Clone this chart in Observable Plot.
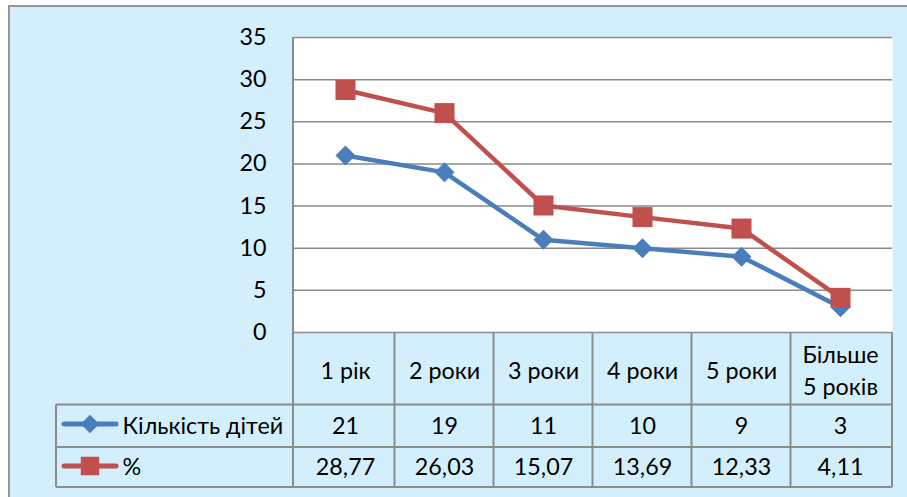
<!DOCTYPE html>
<html><head><meta charset="utf-8">
<script src="https://cdn.jsdelivr.net/npm/d3@7"></script>
<script src="https://cdn.jsdelivr.net/npm/@observablehq/plot@0.6"></script>
<style>html,body{margin:0;padding:0;background:#fff;} #chart svg{display:block}</style>
</head><body><div id="chart"></div>
<script>
// ---- data ----
const categories = ["1 рік", "2 роки", "3 роки", "4 роки", "5 роки", "Більше\n5 років"];
const countValues = [21, 19, 11, 10, 9, 3];
const pctValues = [28.77, 26.03, 15.07, 13.69, 12.33, 4.11];
const seriesNames = ["Кількість дітей", "%"];
const yTicks = [0, 5, 10, 15, 20, 25, 30, 35];

const countData = categories.map((c, i) => ({cat: c, value: countValues[i]}));
const pctData = categories.map((c, i) => ({cat: c, value: pctValues[i]}));

// ---- style ----
const BLUE = "#4a7ebb", RED = "#c0504d", BG = "#d4effc", GRID = "#8a8a8a", TABLE = "#8c8c8c";
const FS = 23.3;
const ROW1 = 72.5, ROW2 = 115, ROW3 = 155;   // table row bottoms below the frame
const DIAMOND_R = 9, SQUARE_R = 11.3;

function background(index, scales, values, dims) {
  const {width, height} = dims;
  const g = d3.create("svg:g");
  g.append("rect").attr("x", 9).attr("y", 6).attr("width", width - 9).attr("height", height - 6).attr("fill", BG);
  g.append("path").attr("d", `M9,${height}V6H${width}`).attr("fill", "none")
    .attr("stroke", "#969696").attr("stroke-width", 2);
  return g.node();
}

function tableGrid(index, scales, values, dims) {
  const x = scales.x, y = scales.y;
  const {width, height, marginLeft, marginRight, marginBottom} = dims;
  const right = width - marginRight, bottom = height - marginBottom;
  const step = x.step ? x.step() : (right - marginLeft) / categories.length;
  const legendLeft = 56;
  const g = d3.create("svg:g").attr("fill", "none");
  const t = g.append("g").attr("stroke", TABLE).attr("stroke-width", 2);
  // left axis line through the table
  t.append("line").attr("x1", marginLeft).attr("x2", marginLeft).attr("y1", y(35)).attr("y2", bottom + ROW3);
  // column boundaries
  categories.slice(1).forEach(c => {
    const xx = x(c) - step / 2;
    t.append("line").attr("x1", xx).attr("x2", xx).attr("y1", bottom).attr("y2", bottom + ROW3);
  });
  t.append("line").attr("x1", right).attr("x2", right).attr("y1", bottom).attr("y2", bottom + ROW3);
  // row lines
  [ROW1, ROW2, ROW3].forEach(r => {
    t.append("line").attr("x1", legendLeft).attr("x2", right).attr("y1", bottom + r).attr("y2", bottom + r);
  });
  t.append("line").attr("x1", legendLeft).attr("x2", legendLeft).attr("y1", bottom + ROW1).attr("y2", bottom + ROW3);
  // legend keys
  const keys = [
    {cy: bottom + 92, color: BLUE, sym: d3.symbolDiamond2, r: DIAMOND_R},
    {cy: bottom + 134, color: RED, sym: d3.symbolSquare, r: SQUARE_R}
  ];
  keys.forEach(k => {
    g.append("line").attr("x1", 64).attr("x2", 116).attr("y1", k.cy).attr("y2", k.cy)
      .attr("stroke", k.color).attr("stroke-width", 5).attr("stroke-linecap", "round");
    g.append("path").attr("transform", `translate(90,${k.cy})`)
      .attr("d", d3.symbol(k.sym, Math.PI * k.r * k.r * 0.85)()).attr("fill", k.color);
  });
  return g.node();
}

const chart = Plot.plot({
  width: 907,
  height: 497,
  marginLeft: 293,
  marginRight: 15,
  marginTop: 37,
  marginBottom: 165,
  style: {fontFamily: "Lato, 'Open Sans', sans-serif", fontSize: FS + "px", color: "#000", background: "#fff"},
  x: {type: "point", domain: categories, padding: 0.5, axis: null},
  y: {domain: [0, 35], axis: null},
  marks: [
    background,
    Plot.frame({fill: "#fff", stroke: null}),
    Plot.ruleY(yTicks, {stroke: GRID, strokeWidth: 1.5}),
    tableGrid,
    Plot.axisY({ticks: yTicks, tickSize: 0, tickPadding: 27, label: null, fontSize: FS}),
    Plot.line(countData, {x: "cat", y: "value", stroke: BLUE, strokeWidth: 4.5}),
    Plot.dot(countData, {x: "cat", y: "value", symbol: "diamond2", r: DIAMOND_R, fill: BLUE}),
    Plot.line(pctData, {x: "cat", y: "value", stroke: RED, strokeWidth: 4.5}),
    Plot.dot(pctData, {x: "cat", y: "value", symbol: "square", r: SQUARE_R, fill: RED}),
    Plot.text(categories, {x: d => d, text: d => d, frameAnchor: "bottom", dy: 36.5,
      lineAnchor: "middle", lineHeight: 1.36, fontSize: FS, fill: "#000"}),
    Plot.text(countData, {x: "cat", text: d => String(d.value), frameAnchor: "bottom", dy: 94,
      lineAnchor: "middle", fontSize: FS, fill: "#000"}),
    Plot.text(pctData, {x: "cat", text: d => d.value.toFixed(2).replace(".", ","), frameAnchor: "bottom", dy: 135,
      lineAnchor: "middle", fontSize: FS, fill: "#000"}),
    Plot.text([seriesNames[0]], {text: d => d, frameAnchor: "bottom-left", dx: -171, dy: 94,
      textAnchor: "start", lineAnchor: "middle", fontSize: FS, fill: "#000"}),
    Plot.text([seriesNames[1]], {text: d => d, frameAnchor: "bottom-left", dx: -171, dy: 135,
      textAnchor: "start", lineAnchor: "middle", fontSize: FS, fill: "#000"})
  ]
});
document.getElementById("chart").appendChild(chart);
</script>
</body></html>
